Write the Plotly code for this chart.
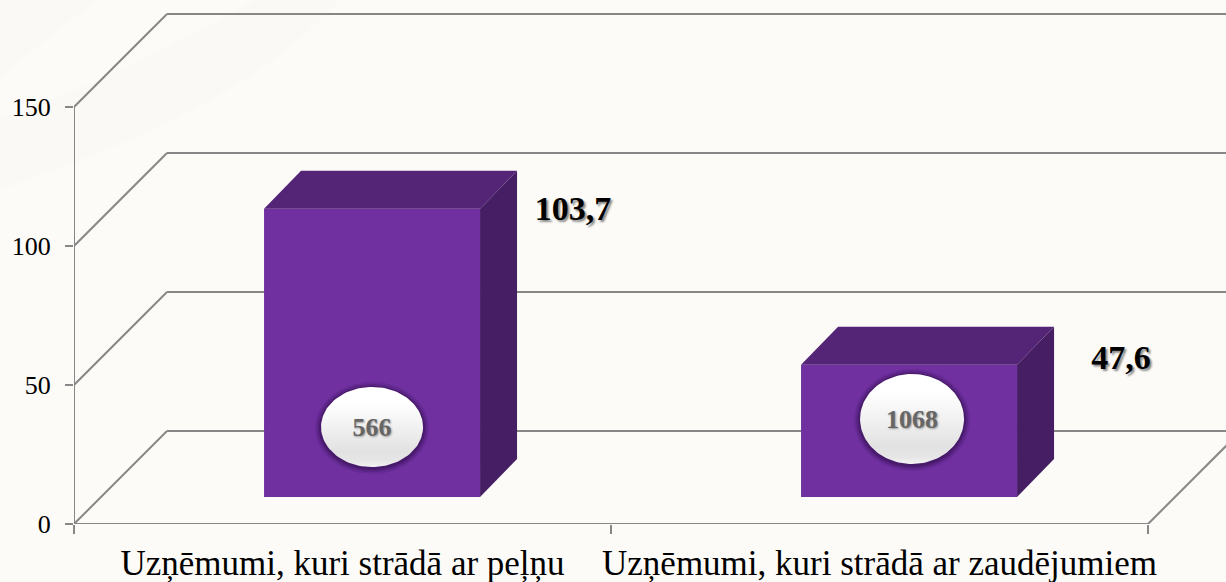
import numpy as np
import plotly.graph_objects as go

categories = ["Uzņēmumi, kuri strādā ar peļņu", "Uzņēmumi, kuri strādā ar zaudējumiem"]
values = [103.7, 47.6]
value_labels = ["103,7", "47,6"]
counts = ["566", "1068"]
y_ticks = [0, 50, 100, 150]

PX_X = 537.0   # pixels per category
PX_Y = 2.78    # pixels per value unit
W, H = 1226, 582
L, B = 74, 58
X_MAX = (W - L) / PX_X
Y_MAX = (H - B) / PX_Y

WALL_DX = 93 / PX_X
WALL_DY = 93 / PX_Y
BAR_BASE = 27 / PX_Y
BAR_W = 216 / PX_X
BAR_DX = 37 / PX_X
BAR_DY = 38 / PX_Y
BAR_X = [i + 0.555 for i in range(len(values))]

GRID = "#878787"
FRONT = "#7030A0"
TOP = "#542477"
SIDE = "#461E64"
BG = "#FCFBF7"

fig = go.Figure()
shapes = []


def line(xs, ys, color=GRID, width=2):
    for x0, x1, y0, y1 in zip(xs[:-1], xs[1:], ys[:-1], ys[1:]):
        shapes.append(dict(type="line", xref="x", yref="y", layer="below",
                           x0=x0, x1=x1, y0=y0, y1=y1,
                           line=dict(color=color, width=width)))


# swoosh in the page background, given in page pixels
def P(x, y):
    return f"{(x - L) / (W - L):.4f},{((H - B) - y) / (H - B):.4f}"


swoosh = [
    f"M{P(0, 190)} C{P(80, 160)} {P(240, 110)} {P(340, 0)} L{P(255, 0)} C{P(170, 50)} {P(60, 100)} {P(0, 118)} Z",
    f"M{P(0, 80)} C{P(30, 50)} {P(70, 20)} {P(100, 0)} L{P(0, 0)} Z",
]
for p in swoosh:
    shapes.append(dict(type="path", path=p, xref="paper", yref="paper", layer="below",
                       fillcolor="#FAF9F6", line=dict(width=0)))

# walls and gridlines
for v in y_ticks:
    line([0, WALL_DX, 2 + WALL_DX], [v, v + WALL_DY, v + WALL_DY])
line([0, 0], [0, max(y_ticks)])
line([0, 2, 2 + WALL_DX], [0, 0, WALL_DY])

# front faces
fig.add_trace(go.Bar(x=BAR_X, y=values, base=BAR_BASE, width=BAR_W,
                     marker=dict(color=FRONT, line=dict(width=0)),
                     hoverinfo="skip", showlegend=False))

# top and side faces
for cx, v in zip(BAR_X, values):
    x0, x1 = cx - BAR_W / 2, cx + BAR_W / 2
    y0, y1 = BAR_BASE, BAR_BASE + v
    fig.add_trace(go.Scatter(
        x=[x0, x1, x1 + BAR_DX, x0 + BAR_DX, x0], y=[y1, y1, y1 + BAR_DY, y1 + BAR_DY, y1],
        mode="lines", fill="toself", fillcolor=TOP, line=dict(width=0),
        hoverinfo="skip", showlegend=False, cliponaxis=False))
    fig.add_trace(go.Scatter(
        x=[x1, x1 + BAR_DX, x1 + BAR_DX, x1, x1], y=[y0, y0 + BAR_DY, y1 + BAR_DY, y1, y0],
        mode="lines", fill="toself", fillcolor=SIDE, line=dict(width=0),
        hoverinfo="skip", showlegend=False, cliponaxis=False))

# value labels
label_dx = [93 / PX_X, 104 / PX_X]
label_dy = [-3 / PX_Y, 4 / PX_Y]
for cx, v, txt, dx, dy in zip(BAR_X, values, value_labels, label_dx, label_dy):
    fig.add_trace(go.Scatter(
        x=[cx + BAR_W / 2 + dx], y=[BAR_BASE + v + dy], mode="text", text=[txt],
        textposition="middle center",
        textfont=dict(family="Liberation Serif", size=34, color="#000000",
                      weight="bold", shadow="2px 2px 2px #8a8a8a"),
        hoverinfo="skip", showlegend=False, cliponaxis=False))

# count badges
badge_x = [BAR_X[0], BAR_X[1] + 3 / PX_X]
badge_y = [97 / PX_Y, 105 / PX_Y]
badge_rx = [51, 52]
badge_ry = [40, 45]
t = np.linspace(0, 2 * np.pi, 121)
for bx, by, rx, ry, txt in zip(badge_x, badge_y, badge_rx, badge_ry, counts):
    for grow, col in [(6, "rgba(50,15,80,0.15)"), (4, "rgba(50,15,80,0.25)"), (2, "rgba(50,15,80,0.45)")]:
        fig.add_trace(go.Scatter(
            x=bx + (rx + grow) / PX_X * np.cos(t), y=by + (ry + grow) / PX_Y * np.sin(t) - 1 / PX_Y,
            mode="lines", fill="toself", fillcolor=col, line=dict(width=0),
            hoverinfo="skip", showlegend=False, cliponaxis=False))
    fig.add_trace(go.Scatter(
        x=bx + rx / PX_X * np.cos(t), y=by + ry / PX_Y * np.sin(t),
        mode="lines", fill="toself", line=dict(width=0),
        fillgradient=dict(type="vertical", colorscale=[
            [0, "#f2f2f2"], [0.08, "#e6e6e6"], [0.2, "#e2e2e2"], [0.6, "#f6f6f6"], [0.8, "#ffffff"], [1, "#ffffff"]]),
        hoverinfo="skip", showlegend=False, cliponaxis=False))
    fig.add_trace(go.Scatter(
        x=[bx], y=[by - 2 / PX_Y], mode="text", text=[txt], textposition="middle center",
        textfont=dict(family="Liberation Serif", size=26, color="#666666",
                      weight="bold", shadow="1px 1px 2px #9a9a9a"),
        hoverinfo="skip", showlegend=False, cliponaxis=False))

fig.update_layout(
    width=W, height=H,
    margin=dict(l=L, r=0, t=0, b=B, pad=0),
    paper_bgcolor=BG, plot_bgcolor="rgba(0,0,0,0)",
    showlegend=False, shapes=shapes, hovermode=False,
    xaxis=dict(
        range=[0, X_MAX], showgrid=False, zeroline=False, showline=False,
        tickmode="array", tickvals=[0.5, 1.5], ticktext=categories, ticks="", ticklen=0,
        ticklabelstandoff=15,
        tickfont=dict(family="Liberation Serif", size=35, color="#000000"),
        minor=dict(tickmode="array", tickvals=[0, 1, 2], ticks="outside", ticklen=9,
                   tickwidth=2, tickcolor=GRID, showgrid=False),
    ),
    yaxis=dict(
        range=[0, Y_MAX], showgrid=False, zeroline=False, showline=False,
        tickmode="array", tickvals=y_ticks, ticks="outside", ticklen=8,
        tickwidth=2, tickcolor=GRID, ticklabelstandoff=9,
        tickfont=dict(family="Liberation Serif", size=26, color="#000000"),
    ),
)

fig.write_html("out.html", config={"displayModeBar": False},
               post_script="document.body.style.margin='0';document.documentElement.style.overflow='hidden';window.dispatchEvent(new Event('resize'));")
